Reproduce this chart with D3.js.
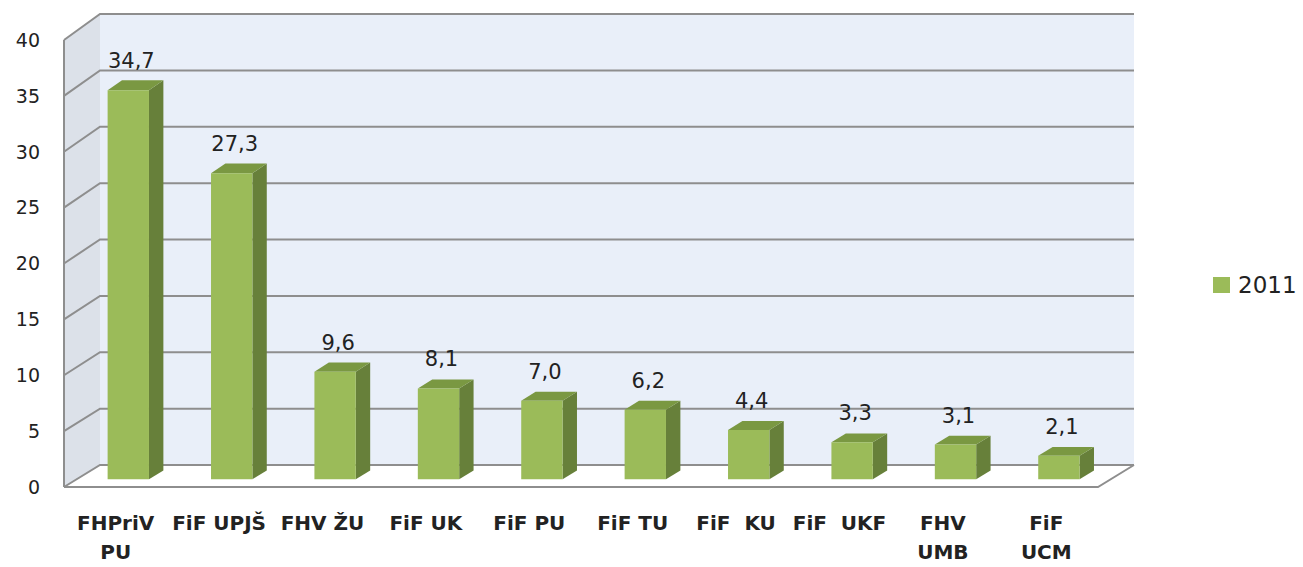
<!DOCTYPE html>
<html>
<head>
<meta charset="utf-8">
<script src="https://cdn.jsdelivr.net/npm/d3@7"></script>
<style>
  body { margin: 0; background: #fff; }
  text { font-family: "DejaVu Sans", sans-serif; fill: #222; white-space: pre; }
</style>
</head>
<body>
<div id="chart"></div>
<script>
// data
const categories = ['FHPriV PU', 'FiF UPJŠ', 'FHV ŽU', 'FiF UK', 'FiF PU', 'FiF TU', 'FiF  KU', 'FiF  UKF', 'FHV UMB', 'FiF UCM']
const categoryLines = [['FHPriV', 'PU'], ['FiF UPJŠ'], ['FHV ŽU'], ['FiF UK'], ['FiF PU'], ['FiF TU'], ['FiF  KU'], ['FiF  UKF'], ['FHV', 'UMB'], ['FiF', 'UCM']]
const values2011 = [34.7, 27.3, 9.6, 8.1, 7.0, 6.2, 4.4, 3.3, 3.1, 2.1]
const yTicks = [0, 5, 10, 15, 20, 25, 30, 35, 40]
const seriesName = '2011'

const width = 1303, height = 567

// front plane and back plane of the 3d box
const yF = d3.scaleLinear().domain([0, 40]).range([487, 40])
const yB = d3.scaleLinear().domain([0, 40]).range([465, 14])
const x = d3.scaleBand().domain(categories).range([64, 1098]).paddingInner(0.6).paddingOuter(0.3)
const depthX = 36

// project a point: front-plane x, value, depth t (0 = front, 1 = back)
function P(xf, v, t) {
  return [xf + depthX * t, yF(v) * (1 - t) + yB(v) * t]
}
function poly(pts) { return pts.map(p => p.join(',')).join(' ') }

const svg = d3.select('#chart').append('svg')
  .attr('width', width)
  .attr('height', height)

const x0 = 64, x1 = 1098
const vMax = 40

// side wall
svg.append('polygon')
  .attr('points', poly([P(x0, 0, 0), P(x0, vMax, 0), P(x0, vMax, 1), P(x0, 0, 1)]))
  .attr('fill', '#dce1e9')
// back wall
svg.append('polygon')
  .attr('points', poly([P(x0, 0, 1), P(x0, vMax, 1), P(x1, vMax, 1), P(x1, 0, 1)]))
  .attr('fill', '#e9eff9')
// floor
svg.append('polygon')
  .attr('points', poly([P(x0, 0, 0), P(x0, 0, 1), P(x1, 0, 1), P(x1, 0, 0)]))
  .attr('fill', '#ffffff')

// gridlines
const grid = svg.append('g').attr('fill', 'none').attr('stroke', '#8e8e8e').attr('stroke-width', 2)
yTicks.forEach(v => {
  grid.append('polyline')
    .attr('points', poly([P(x0, v, 0), P(x0, v, 1), P(x1, v, 1)]))
})
grid.append('line')
  .attr('x1', x0).attr('y1', yF(0)).attr('x2', x0).attr('y2', yF(vMax))
grid.append('polyline')
  .attr('points', poly([P(x0, 0, 0), P(x1, 0, 0), P(x1, 0, 1)]))

// y axis labels
svg.append('g').selectAll('text')
  .data(yTicks)
  .join('text')
  .attr('x', 40)
  .attr('y', d => yF(d))
  .attr('dy', '0.36em')
  .attr('text-anchor', 'end')
  .attr('font-size', 19)
  .text(d => d)

// bars
const t0 = 0.35, t1 = 0.75
const bars = svg.append('g').selectAll('g')
  .data(values2011.map((v, i) => ({ v: v, c: categories[i] })))
  .join('g')

bars.append('polygon') // right side
  .attr('points', d => {
    const xr = x(d.c) + x.bandwidth()
    return poly([P(xr, 0, t0), P(xr, d.v, t0), P(xr, d.v, t1), P(xr, 0, t1)])
  })
  .attr('fill', '#67803a')
bars.append('polygon') // top
  .attr('points', d => {
    const xl = x(d.c), xr = xl + x.bandwidth()
    return poly([P(xl, d.v, t0), P(xr, d.v, t0), P(xr, d.v, t1), P(xl, d.v, t1)])
  })
  .attr('fill', '#7a9842')
bars.append('polygon') // front
  .attr('points', d => {
    const xl = x(d.c), xr = xl + x.bandwidth()
    return poly([P(xl, 0, t0), P(xl, d.v, t0), P(xr, d.v, t0), P(xr, 0, t0)])
  })
  .attr('fill', '#9bbb59')

// value labels
bars.append('text')
  .attr('x', d => P(x(d.c) + x.bandwidth() / 2, d.v, t0)[0] + 3)
  .attr('y', d => P(0, d.v, t0)[1] - 22)
  .attr('text-anchor', 'middle')
  .attr('font-size', 21)
  .text(d => d3.format('.1f')(d.v).replace('.', ','))

// category labels
const catLabels = svg.append('g').selectAll('text')
  .data(categories)
  .join('text')
  .attr('x', d => x(d) + x.bandwidth() / 2)
  .attr('y', 530)
  .attr('text-anchor', 'middle')
  .attr('font-size', 20)
  .attr('font-weight', 'bold')
catLabels.selectAll('tspan')
  .data((d, i) => categoryLines[i])
  .join('tspan')
  .attr('x', function () { return this.parentNode.getAttribute('x') })
  .attr('dy', (d, i) => i === 0 ? 0 : 29)
  .text(d => d)

// legend
const legend = svg.append('g').attr('transform', 'translate(1213,277)')
legend.append('rect')
  .attr('width', 17).attr('height', 16)
  .attr('fill', '#9bbb59')
legend.append('text')
  .attr('x', 25).attr('y', 8)
  .attr('dy', '0.36em')
  .attr('font-size', 23)
  .text(seriesName)
</script>
</body>
</html>
